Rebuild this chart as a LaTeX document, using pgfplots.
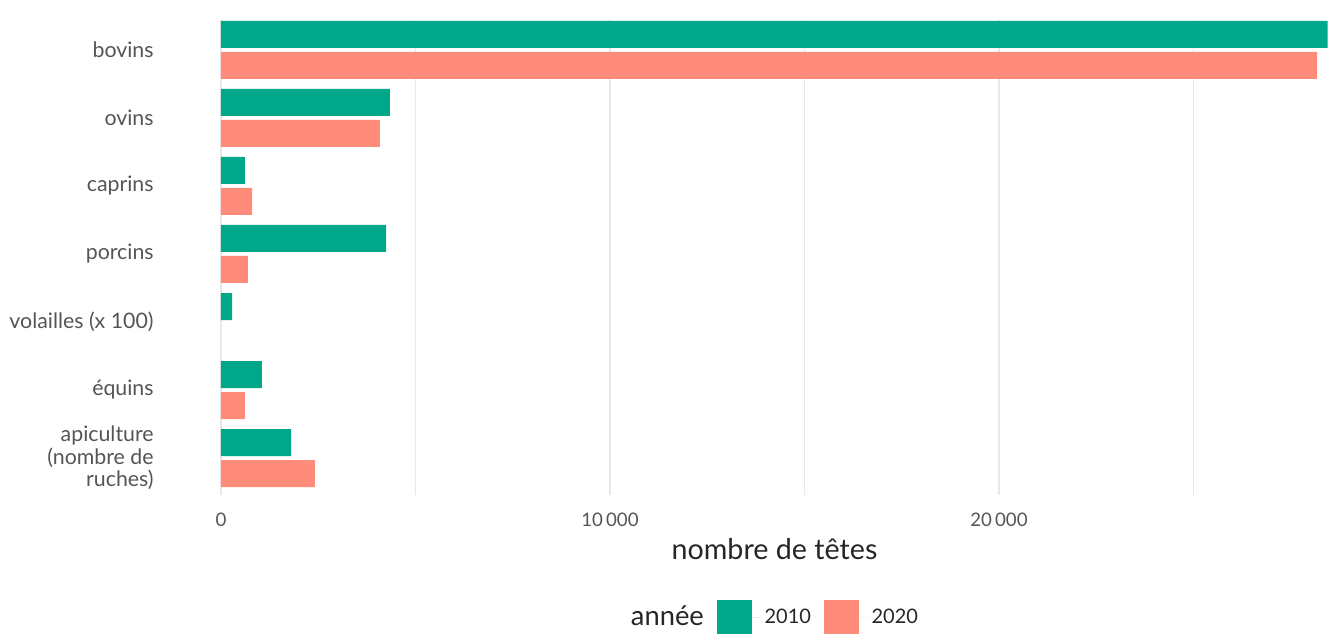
\documentclass[border=0pt]{standalone}
\usepackage{pgfplots}
\pgfplotsset{compat=1.18}
\usepackage{fontspec}
\setmainfont{Lato}
\definecolor{c2010}{RGB}{0,168,137}
\definecolor{c2020}{RGB}{255,140,122}
\definecolor{gridc}{RGB}{232,232,232}
\definecolor{txt}{RGB}{85,85,85}
\pgfplotstableread{
y val
6 28450
5 4344
4 617
3 4242
2 283
1 1054
0 1800
}\dataA
\pgfplotstableread{
y val
6 28175
5 4087
4 797
3 694
1 617
0 2416
}\dataB
\begin{document}
\begin{tikzpicture}
\begin{axis}[name=ax, scale only axis, width=830.25pt, height=356.25pt,
  xmin=0, xmax=28457, ymin=-0.544, ymax=6.441,
  scaled x ticks=false,
  axis line style={draw=none}, tick style={draw=none},
  xtick={0,10000,20000}, xticklabels={0,10\,000,20\,000},
  minor xtick={5000,15000,25000},
  xmajorgrids, xminorgrids,
  major grid style={gridc, line width=0.9pt}, minor grid style={gridc, line width=0.9pt},
  ytick={0,...,6},
  yticklabels={{apiculture\\(nombre de\\ruches)}, équins, volailles (x 100), porcins, caprins, ovins, bovins},
  yticklabel style={align=right, font=\fontsize{16}{17}\selectfont, text=txt, xshift=-47pt},
  xticklabel style={font=\fontsize{14}{16}\selectfont, text=txt, yshift=-10pt},
  xlabel={nombre de têtes},
  xlabel style={at={(axis description cs:0.5,0)}, anchor=center, yshift=-40.5pt, font=\fontsize{21.5}{23}\selectfont, text=black!85},
  legend columns=-1,
  legend style={draw=none, at={(0.5,0)}, anchor=center, yshift=-91.5pt, font=\fontsize{15}{17}\selectfont, text=black!85,
    /tikz/every even column/.append style={column sep=8pt}},
]
\addlegendimage{empty legend}
\addlegendentry{\fontsize{20.5}{22}\selectfont année}
\addplot[xbar, bar width=20.25pt, bar shift=11.625pt, fill=c2010, draw=none,
  legend image code/.code={\fill[c2010] (0pt,-13pt) rectangle (26pt,13pt); \path (26pt,0pt) -- (33.5pt,0pt);}] table[x=val, y=y] {\dataA};
\addlegendentry{2010}
\addplot[xbar, bar width=20.25pt, bar shift=-11.625pt, fill=c2020, draw=none,
  legend image code/.code={\fill[c2020] (0pt,-13pt) rectangle (26pt,13pt); \path (26pt,0pt) -- (33.5pt,0pt);}] table[x=val, y=y] {\dataB};
\addlegendentry{2020}
\end{axis}
\pgfresetboundingbox
\path ([xshift=-165.75pt,yshift=-103.5pt]ax.south west) rectangle ([yshift=15pt]ax.north east);
\end{tikzpicture}
\end{document}
